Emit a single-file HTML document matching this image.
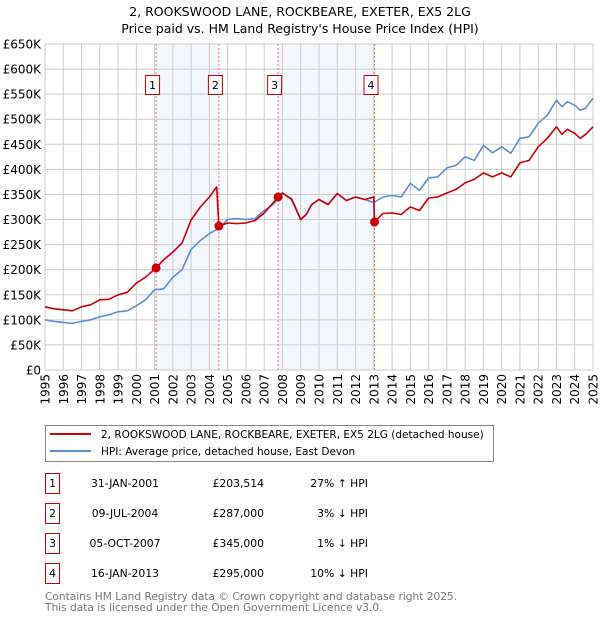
<!DOCTYPE html>
<html><head><meta charset="utf-8"><style>
body{margin:0;background:#fff;width:600px;height:620px;overflow:hidden;font-family:"DejaVu Sans","Liberation Sans",sans-serif;}
svg text{font-family:"DejaVu Sans","Liberation Sans",sans-serif;}
</style></head><body>
<svg id="chart" width="600" height="620" xmlns="http://www.w3.org/2000/svg">
<text x="300" y="16" text-anchor="middle" font-size="12.5">2, ROOKSWOOD LANE, ROCKBEARE, EXETER, EX5 2LG</text>
<text x="300" y="33" text-anchor="middle" font-size="12.5">Price paid vs. HM Land Registry's House Price Index (HPI)</text>
<g id="grid"></g><g id="plot"></g><g id="axes"></g>
<g>
<rect x="45.5" y="425.5" width="448" height="36" fill="#fff" stroke="#888"/>
<line x1="50" y1="434" x2="91" y2="434" stroke="#cc0000" stroke-width="2"/>
<text x="101" y="438" font-size="10.5">2, ROOKSWOOD LANE, ROCKBEARE, EXETER, EX5 2LG (detached house)</text>
<line x1="50" y1="451" x2="91" y2="451" stroke="#5b8fd4" stroke-width="2"/>
<text x="101" y="455" font-size="10.5">HPI: Average price, detached house, East Devon</text>
</g>
<g id="table" font-size="10.8"></g>
<text x="45" y="600" font-size="10.6" fill="#777">Contains HM Land Registry data © Crown copyright and database right 2025.</text>
<text x="45" y="611" font-size="10.6" fill="#777">This data is licensed under the Open Government Licence v3.0.</text>
</svg>
<script>
const hpiYears=[1995,1995.5,1996,1996.5,1997,1997.5,1998,1998.5,1999,1999.5,2000,2000.5,2001,2001.5,2002,2002.5,2003,2003.5,2004,2004.5,2005,2005.5,2006,2006.5,2007,2007.5,2008,2008.5,2009,2009.3,2009.6,2010,2010.5,2011,2011.5,2012,2012.5,2013,2013.5,2014,2014.5,2015,2015.5,2016,2016.5,2017,2017.5,2018,2018.5,2019,2019.5,2020,2020.5,2021,2021.5,2022,2022.5,2023,2023.3,2023.6,2024,2024.3,2024.6,2025];
const hpiValues=[100,97,95,93,97,100,106,110,116,118,128,140,160,162,185,200,240,258,272,282,300,302,300,302,318,330,352,342,300,310,330,340,330,352,338,345,340,334,345,348,345,372,358,383,385,403,408,425,418,448,433,445,432,462,465,492,508,538,525,535,528,518,522,542];
const ppYears=[1995,1995.5,1996,1996.5,1997,1997.5,1998,1998.5,1999,1999.5,2000,2000.5,2001.08,2001.5,2002,2002.5,2003,2003.5,2004,2004.4,2004.52,2005,2005.5,2006,2006.5,2007,2007.76,2008,2008.5,2009,2009.3,2009.6,2010,2010.5,2011,2011.5,2012,2012.5,2013,2013.04,2013.5,2014,2014.5,2015,2015.5,2016,2016.5,2017,2017.5,2018,2018.5,2019,2019.5,2020,2020.5,2021,2021.5,2022,2022.5,2023,2023.3,2023.6,2024,2024.3,2024.6,2025];
const ppValues=[126,122,120,118,126,130,140,141,150,155,173,185,203.5,220,235,253,299,325,345,365,287,293,292,293,298,313,345,353,340,300,310,330,340,330,352,338,345,340,345,295,312,313,310,325,318,343,345,353,360,373,380,393,385,393,385,413,418,445,462,485,470,480,472,462,470,485];
const sales=[{n:1,y:2001.08,v:203.5},{n:2,y:2004.52,v:287},{n:3,y:2007.76,v:345},{n:4,y:2013.04,v:295}];
const yTicks=[0,50,100,150,200,250,300,350,400,450,500,550,600,650];
const xTicks=[1995,1996,1997,1998,1999,2000,2001,2002,2003,2004,2005,2006,2007,2008,2009,2010,2011,2012,2013,2014,2015,2016,2017,2018,2019,2020,2021,2022,2023,2024,2025];
const rows=[["1","31-JAN-2001","£203,514","27% ↑ HPI"],["2","09-JUL-2004","£287,000","3% ↓ HPI"],["3","05-OCT-2007","£345,000","1% ↓ HPI"],["4","16-JAN-2013","£295,000","10% ↓ HPI"]];
const X0=45,X1=593,Y0=370,Y1=44;
const sx=y=>X0+(y-1995)/30*(X1-X0);
const sy=v=>Y0-v/650*(Y0-Y1);
const NS="http://www.w3.org/2000/svg";
function mk(t,a,p){const e=document.createElementNS(NS,t);for(const k in a)e.setAttribute(k,a[k]);p.appendChild(e);return e;}
const grid=document.getElementById('grid'),plot=document.getElementById('plot'),axes=document.getElementById('axes');
for(const [a,b] of [[0,1],[2,3]]){const r=mk('rect',{x:sx(sales[a].y),y:Y1,width:sx(sales[b].y)-sx(sales[a].y),height:Y0-Y1,fill:'#f3f6fd'},grid);

}
yTicks.forEach(v=>{const l=mk('line',{x1:X0,x2:X1,y1:sy(v),y2:sy(v),stroke:'#ccc','stroke-width':1},grid);


const t=mk('text',{x:41,y:sy(v)+4.5,'text-anchor':'end','font-size':12},axes);t.textContent=v===0?'£0':'£'+v+'K';

});
xTicks.forEach(y=>{const l=mk('line',{x1:sx(y),x2:sx(y),y1:Y1,y2:Y0,stroke:'#ccc','stroke-width':1},grid);


const t=mk('text',{x:0,y:0,'text-anchor':'end','font-size':12,transform:`translate(${sx(y)+4.5},374) rotate(-90)`},axes);t.textContent=y;

});
mk('rect',{x:X0,y:Y1,width:X1-X0,height:Y0-Y1,fill:'none',stroke:'#ccc'},grid);
sales.forEach(s=>{const l=mk('line',{x1:sx(s.y),x2:sx(s.y),y1:Y1,y2:Y0,stroke:'#ee7777','stroke-dasharray':'2,2','stroke-width':1},plot);

});
function path(xs,vs,col,name){const d=xs.map((y,i)=>(i?'L':'M')+sx(y).toFixed(1)+','+sy(vs[i]).toFixed(1)).join('');
const p=mk('path',{d:d,fill:'none',stroke:col,'stroke-width':1.6,'stroke-linejoin':'round'},plot);

}
path(hpiYears,hpiValues,'#5b8fd4','hpi-line');
path(ppYears,ppValues,'#cc0000','price-paid-line');
sales.forEach(s=>{const c=mk('circle',{cx:sx(s.y),cy:sy(s.v),r:4.5,fill:'#cc0000'},plot);


const g=mk('g',{},plot);


mk('rect',{x:sx(s.y)-10.5,y:75.5,width:14,height:19,fill:'#fff',stroke:'#cc0000'},g);
const t=mk('text',{x:sx(s.y)-3.5,y:89,'text-anchor':'middle','font-size':11},g);t.textContent=s.n;});
const tb=document.getElementById('table');
rows.forEach((r,i)=>{const cy=483+i*30;const g=mk('g',{},tb);


mk('rect',{x:45.5,y:cy-9.5,width:14,height:20,fill:'#fff',stroke:'#cc0000'},g);
let t=mk('text',{x:52.5,y:cy+4,'text-anchor':'middle'},g);t.textContent=r[0];
t=mk('text',{x:125,y:cy+4,'text-anchor':'middle'},g);t.textContent=r[1];
t=mk('text',{x:264,y:cy+4,'text-anchor':'end'},g);t.textContent=r[2];
t=mk('text',{x:368,y:cy+4,'text-anchor':'end'},g);t.textContent=r[3];});
</script>
</body></html>
